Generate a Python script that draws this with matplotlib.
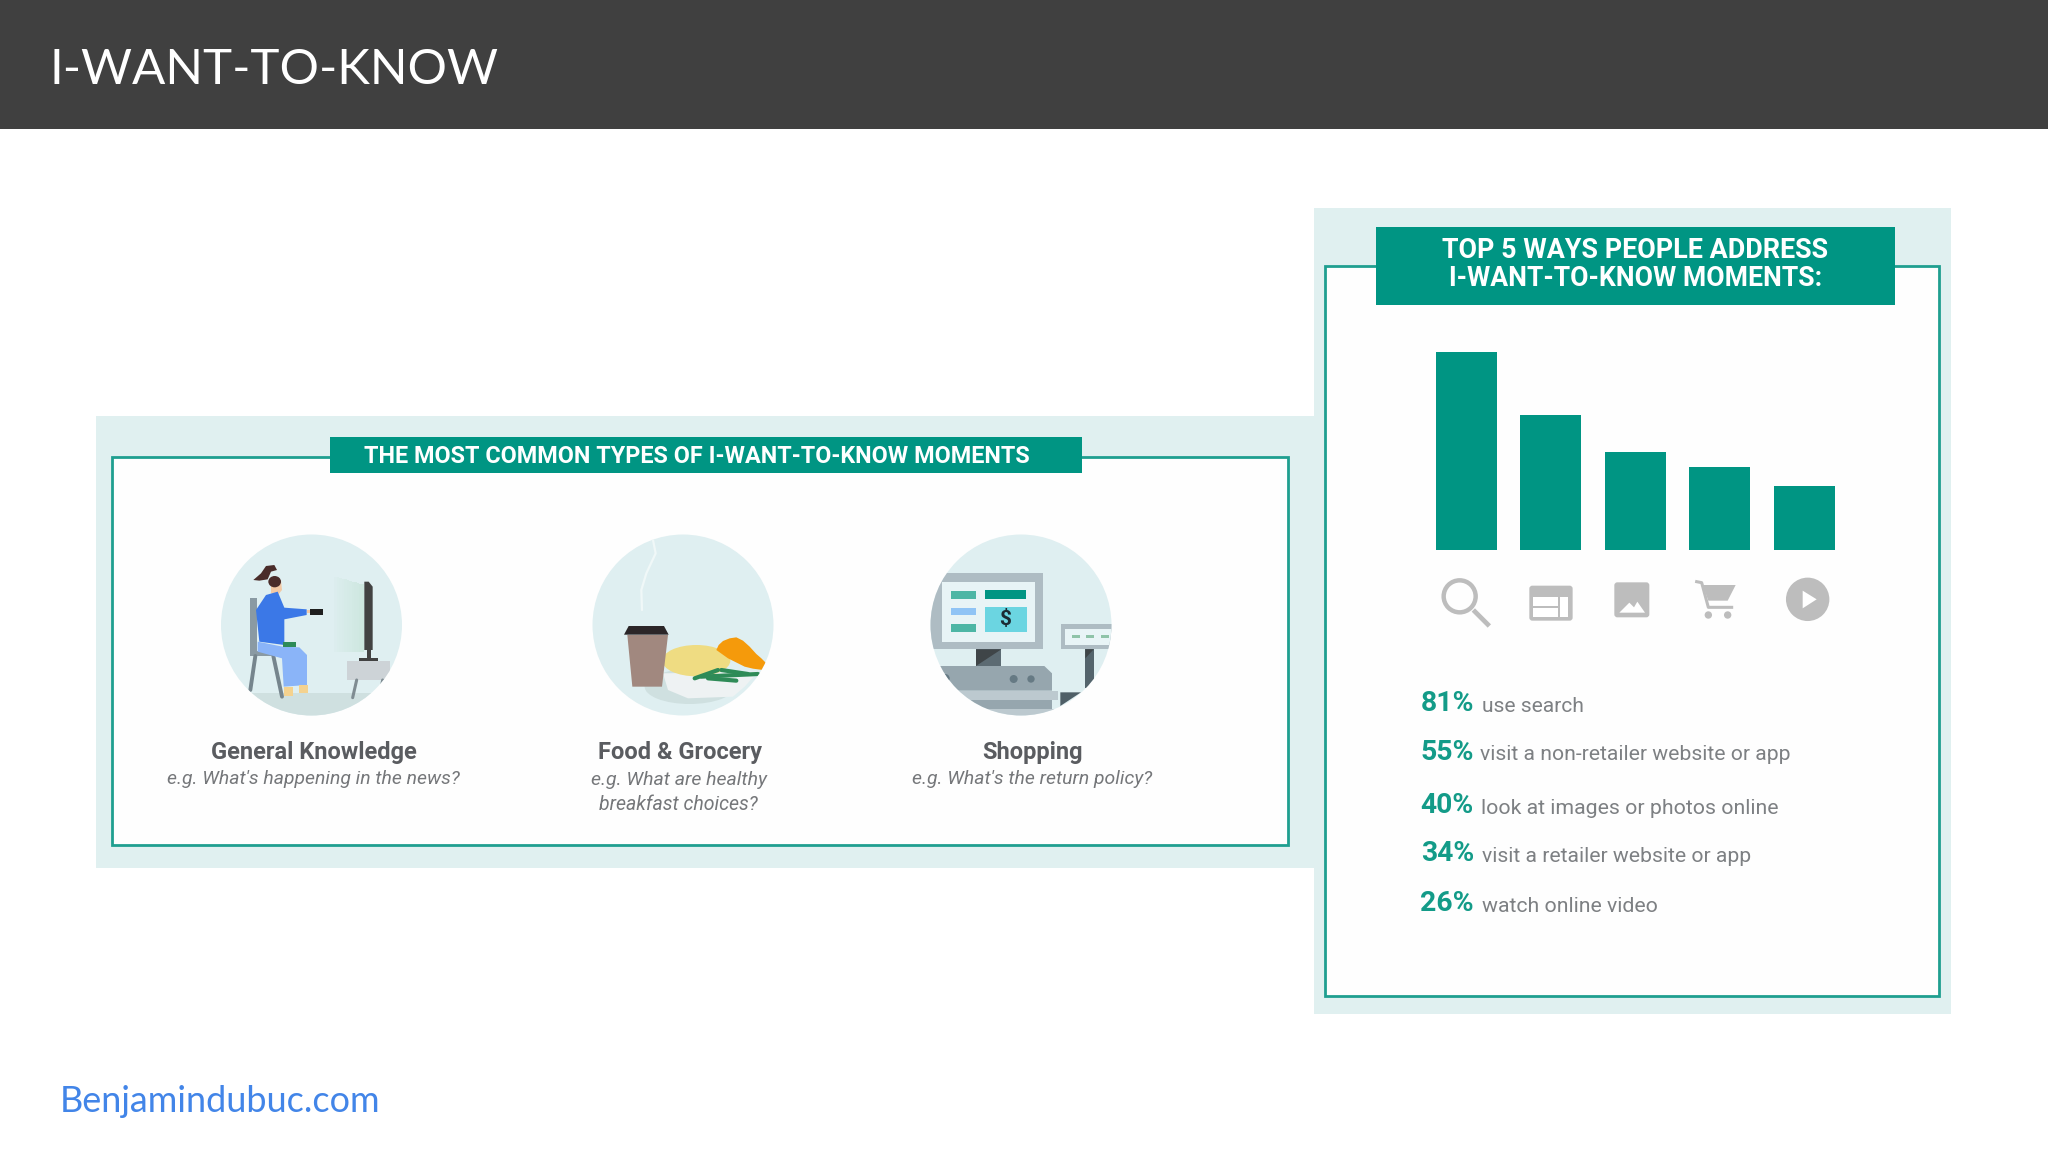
import matplotlib
matplotlib.use("Agg")
import matplotlib.pyplot as plt
from matplotlib.patches import Rectangle, Circle, Polygon, Ellipse, FancyBboxPatch
from matplotlib.lines import Line2D

# ---- data ----
way_values = [81, 55, 40, 34, 26]
way_labels = ["use search", "visit a non-retailer website or app",
              "look at images or photos online",
              "visit a retailer website or app", "watch online video"]
type_names = ["General Knowledge", "Food & Grocery", "Shopping"]
title_text = "I-WANT-TO-KNOW"
footer_text = "Benjamindubuc.com"
left_banner = "THE MOST COMMON TYPES OF I-WANT-TO-KNOW MOMENTS"
right_banner = ["TOP 5 WAYS PEOPLE ADDRESS", "I-WANT-TO-KNOW MOMENTS:"]

TEAL = "#009583"
PALE = "#e0f0f0"
W, H = 2048, 1152
fig = plt.figure(figsize=(W / 100, H / 100), dpi=100, facecolor="white")
ax = fig.add_axes([0, 0, 1, 1])
ax.set_xlim(0, W); ax.set_ylim(H, 0); ax.axis("off")
renderer = fig.canvas.get_renderer()


def rect(x0, y0, x1, y1, fc, ec="none", lw=0, z=1, a=ax):
    p = Rectangle((x0, y0), x1 - x0, y1 - y0, fc=fc, ec=ec, lw=lw, zorder=z)
    a.add_patch(p)
    return p


def fit(x0, x1, base, s, color, family="Roboto", weight="normal", style="normal", guess=20, z=10):
    t = ax.text((x0 + x1) / 2, base, s, color=color, family=family, weight=weight, style=style,
                ha="center", va="baseline", fontsize=guess, zorder=z)
    w = t.get_window_extent(renderer).width
    t.set_fontsize(guess * (x1 - x0) / w)
    return t


# header
rect(0, 0, W, 129, "#404040")
fit(49.5, 498, 84.3, title_text, "white", family="Lato", guess=38)
fit(60, 380, 1112, footer_text, "#4285e8", family="Lato", guess=26)

# left panel
rect(96, 416, 1314, 868, PALE)
rect(111.6, 456.7, 1288, 845, "#fefefe", ec="#1f9f90", lw=2, z=2)
rect(329.6, 436.7, 1082, 473.3, TEAL, z=3)
fit(364.5, 1029, 463, left_banner, "white", weight="bold", guess=17)

# right panel
rect(1313.5, 208, 1950.5, 1013.5, PALE)
rect(1324.7, 265.7, 1939, 995.5, "#fefefe", ec="#1f9f90", lw=2, z=2)
rect(1375.5, 226.7, 1895.4, 305.3, TEAL, z=3)
fit(1443, 1828, 258.5, right_banner[0], "white", weight="bold", guess=19)
fit(1449, 1822, 285.5, right_banner[1], "white", weight="bold", guess=19)

# bars
bx0, bx1, by_top, by_bot = 1424.1, 1846.6, 351.7, 550
axb = fig.add_axes([bx0 / W, 1 - by_bot / H, (bx1 - bx0) / W, (by_bot - by_top) / H])
axb.patch.set_alpha(0); axb.axis("off")
axb.set_xlim(-0.5, 4.5); axb.set_ylim(0, 81)
axb.bar(range(len(way_values)), way_values, width=0.72, color=TEAL, zorder=5)

# percent list
pct_base = [711, 759.5, 813, 861, 911]
text_x0 = [1481.7, 1480.5, 1481.7, 1482, 1482]
text_x1 = [1584, 1791, 1778, 1752, 1658]
for v, lab, b, x0, x1 in zip(way_values, way_labels, pct_base, text_x0, text_x1):
    fit(1420.5, 1474, b, f"{v}%", "#139b88", weight="bold", guess=19)
    fit(x0, x1, b + 0.7, lab, "#7d8083", guess=15)

# type captions
fit(211, 416.5, 759.3, type_names[0], "#5a5c60", weight="bold", guess=17)
fit(166.7, 460.6, 784.5, "e.g. What's happening in the news?", "#75777a", style="italic", guess=14)
fit(598, 762, 759.3, type_names[1], "#5a5c60", weight="bold", guess=17)
fit(591, 767.3, 785, "e.g. What are healthy", "#75777a", style="italic", guess=14)
fit(598.3, 758, 810.5, "breakfast choices?", "#75777a", style="italic", guess=14)
fit(982, 1082.4, 759.3, type_names[2], "#5a5c60", weight="bold", guess=17)
fit(911.8, 1152.6, 784.5, "e.g. What's the return policy?", "#75777a", style="italic", guess=14)

# ---- icons ----
ZI = lambda x, y: (x / 3 + 1430, y / 3 + 570)
GR = "#bdbdbd"
ax.add_patch(Circle(ZI(89, 79), 16, fc="none", ec=GR, lw=3.2, zorder=6))
ax.add_line(Line2D(*zip(ZI(130, 120), ZI(178, 168)), color=GR, lw=3.4, zorder=6, solid_capstyle="butt"))
x, y = ZI(298, 47)
ax.add_patch(FancyBboxPatch((x, y), 43.3, 35, boxstyle="round,pad=0,rounding_size=3", fc=GR, ec="none", zorder=6))
for a_, b_, c_, d_ in [(310, 80, 383, 107), (310, 113, 383, 140), (390, 80, 415, 140)]:
    rect(*ZI(a_, b_), *ZI(c_, d_), "white", z=7)
x, y = ZI(553, 37)
ax.add_patch(FancyBboxPatch((x, y), 35, 35, boxstyle="round,pad=0,rounding_size=3", fc=GR, ec="none", zorder=6))
ax.add_patch(Polygon([ZI(*p) for p in [(568, 128), (598, 98), (612, 112), (622, 95), (645, 128)]], fc="white", ec="none", zorder=7))
ax.add_patch(Polygon([ZI(*p) for p in [(818, 45), (917, 45), (893, 92), (835, 92)]], fc=GR, ec="none", zorder=6))
ax.add_line(Line2D(*zip(ZI(800, 35), ZI(815, 38), ZI(835, 112), ZI(905, 112)), color=GR, lw=2.2, zorder=6))
ax.add_patch(Circle(ZI(835, 135), 3.7, fc=GR, ec="none", zorder=6))
ax.add_patch(Circle(ZI(893, 135), 3.7, fc=GR, ec="none", zorder=6))
ax.add_patch(Circle(ZI(1133, 88), 21.7, fc=GR, ec="none", zorder=6))
ax.add_patch(Polygon([ZI(*p) for p in [(1118, 62), (1160, 88), (1118, 115)]], fc="white", ec="none", zorder=7))

# ---- illustrations ----
CIRC = "#dfeff1"


def zoomer(x0):
    return lambda x, y: (x / 3 + x0, y / 3 + 530)


Z1, Z2, Z3 = zoomer(216), zoomer(588), zoomer(926)


def clipped(circ, art):
    ax.add_patch(art)
    art.set_clip_path(circ)
    return art


def poly(Z, pts, fc, circ, z=5, alpha=None):
    return clipped(circ, Polygon([Z(*p) for p in pts], fc=fc, ec="none", zorder=z, alpha=alpha))


def box(Z, x0, y0, x1, y1, fc, circ, z=5, alpha=None):
    return poly(Z, [(x0, y0), (x1, y0), (x1, y1), (x0, y1)], fc, circ, z, alpha)


def ell(Z, x, y, rx, ry, fc, circ, z=5):
    cx, cy = Z(x, y)
    return clipped(circ, Ellipse((cx, cy), 2 * rx / 3, 2 * ry / 3, fc=fc, ec="none", zorder=z))


def seg(Z, pts, color, lw, circ, z=5):
    xs, ys = zip(*[Z(*p) for p in pts])
    l = Line2D(xs, ys, color=color, lw=lw, zorder=z, solid_capstyle="round")
    ax.add_line(l); l.set_clip_path(circ)


# person
c1 = Circle((311.5, 625), 90.5, fc=CIRC, ec="none", zorder=4); ax.add_patch(c1)
box(Z1, 0, 490, 570, 570, "#cfe0e0", c1)
steps = 12
for i in range(steps):
    xa = 355 + 90 * i / steps
    xb = 355 + 90 * (i + 1) / steps
    top = 140 + 25 * i / steps
    poly(Z1, [(xa, top), (xb, top), (xb, 365), (xa, 365)], "#c4e3d6", c1, 5, alpha=0.1 + 0.6 * i / steps)
poly(Z1, [(445, 155), (458, 155), (470, 170), (470, 360), (445, 360)], "#424242", c1, 6)
box(Z1, 452, 360, 465, 385, "#424242", c1, 6)
box(Z1, 428, 383, 485, 392, "#424242", c1, 6)
box(Z1, 393, 393, 522, 450, "#cdd3d7", c1, 6)
seg(Z1, [(422, 450), (410, 503)], "#7f8c92", 2.2, c1, 6)
seg(Z1, [(500, 450), (497, 465)], "#7f8c92", 2.2, c1, 6)
box(Z1, 103, 203, 122, 375, "#8a9aa3", c1, 6)
box(Z1, 103, 362, 195, 378, "#8a9aa3", c1, 6)
seg(Z1, [(118, 378), (103, 480)], "#76858d", 2.8, c1, 6)
seg(Z1, [(172, 378), (198, 500)], "#76858d", 2.8, c1, 6)
poly(Z1, [(125, 335), (200, 350), (250, 352), (273, 375), (273, 465), (203, 470), (198, 385), (125, 365)], "#8ab4f8", c1, 7)
box(Z1, 205, 470, 230, 497, "#f4d28f", c1, 7)
box(Z1, 248, 465, 275, 488, "#f4d28f", c1, 7)
poly(Z1, [(120, 240), (150, 195), (185, 185), (205, 233), (272, 238), (272, 255), (205, 268), (205, 345), (130, 335)], "#3b78e7", c1, 8)
box(Z1, 272, 240, 282, 250, "#f3c9a5", c1, 8)
box(Z1, 282, 238, 320, 256, "#1f1f1f", c1, 8)
box(Z1, 200, 335, 240, 352, "#2e8b57", c1, 9)
poly(Z1, [(165, 150), (195, 150), (198, 180), (188, 192), (165, 190)], "#f3c9a5", c1, 7)
ell(Z1, 176, 155, 19, 17, "#4a2c2a", c1, 9)
poly(Z1, [(112, 150), (135, 130), (150, 108), (175, 105), (183, 120), (165, 125), (155, 148), (130, 152)], "#4a2c2a", c1, 9)

# food
c2 = Circle((683, 625), 90.5, fc=CIRC, ec="none", zorder=4); ax.add_patch(c2)
seg(Z2, [(195, 30), (203, 70), (175, 130), (160, 180), (162, 240)], "#f0f8f8", 1.6, c2)
ell(Z2, 305, 470, 135, 52, "#cfe0e0", c2, 5)
poly(Z2, [(225, 430), (510, 425), (470, 470), (435, 500), (300, 505), (240, 480)], "#eef2f3", c2, 6)
ell(Z2, 325, 392, 102, 47, "#efdc82", c2, 7)
poly(Z2, [(385, 360), (392, 345), (405, 333), (425, 325), (445, 322), (465, 332), (485, 350), (505, 372), (520, 385), (535, 400), (525, 420), (495, 416), (470, 410), (420, 385)], "#f59a0b", c2, 8)
poly(Z2, [(118, 315), (240, 315), (222, 470), (133, 470)], "#a1887f", c2, 9)
poly(Z2, [(108, 314), (242, 314), (228, 288), (122, 288)], "#2b2628", c2, 10)
for pts in ([(320, 445), (390, 420)], [(340, 440), (510, 432)], [(360, 445), (445, 452)], [(400, 420), (480, 432)]):
    seg(Z2, pts, "#2e8b57", 3, c2, 9)

# shopping
c3 = Circle((1021, 625), 90.5, fc=CIRC, ec="none", zorder=4); ax.add_patch(c3)
box(Z3, 0, 130, 350, 358, "#aebcc3", c3)
box(Z3, 48, 155, 328, 335, "#e8f4f6", c3, 6)
box(Z3, 75, 182, 150, 206, "#4db6a5", c3, 7)
box(Z3, 176, 181, 300, 206, TEAL, c3, 7)
box(Z3, 75, 233, 150, 256, "#90c4f5", c3, 7)
box(Z3, 75, 283, 150, 307, "#4db6a5", c3, 7)
box(Z3, 176, 232, 302, 307, "#6bd5e1", c3, 7)
px, py = Z3(238, 285)
ax.text(px, py, "$", fontsize=15, weight="bold", family="Roboto", ha="center", va="baseline", color="#1c2b33", zorder=8)
box(Z3, 150, 358, 226, 408, "#5c6b73", c3)
poly(Z3, [(150, 358), (226, 358), (150, 408)], "#3f4548", c3, 6)
poly(Z3, [(0, 408), (355, 408), (378, 430), (378, 482), (0, 482)], "#96a6ae", c3, 6)
ell(Z3, 263, 447, 12, 12, "#667a84", c3, 7)
ell(Z3, 315, 447, 11, 11, "#667a84", c3, 7)
ell(Z3, 58, 445, 13, 13, "#667a84", c3, 7)
box(Z3, 0, 482, 395, 510, "#bcc9cf", c3, 6)
box(Z3, 0, 510, 378, 537, "#96a6ae", c3, 6)
box(Z3, 0, 537, 570, 570, "#bcc9cf", c3, 6)
box(Z3, 405, 283, 570, 358, "#aebcc3", c3, 6)
box(Z3, 417, 298, 570, 345, "#e8f4f6", c3, 7)
for x in (437, 480, 526):
    box(Z3, x, 315, x + 24, 325, "#8fc3a8", c3, 8)
box(Z3, 478, 358, 503, 475, "#54646c", c3, 6)
poly(Z3, [(478, 358), (503, 358), (478, 385)], "#3f4548", c3, 7)
poly(Z3, [(403, 487), (465, 487), (403, 528)], "#4f5f67", c3, 7)

fig.savefig("out.png", dpi=100, facecolor="white")
